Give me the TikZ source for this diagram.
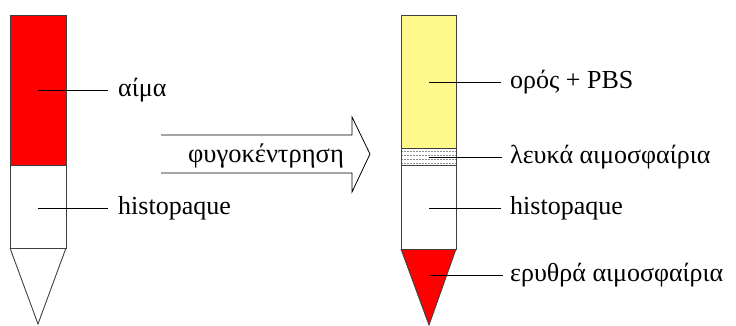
\documentclass[tikz,border=0pt]{standalone}
\usepackage{fontspec}
\setmainfont{Liberation Serif}
\usetikzlibrary{positioning,shapes.arrows}
\tikzset{
  tubewall/.style={draw=black!75, line width=0.9pt},
  leader/.style={draw=black, line width=0.8pt},
  lbl/.style={anchor=west, inner sep=0pt, font=\fontsize{26}{30}\selectfont},
  bigarrow/.style={draw=black, line width=0.8pt, fill=white},
  bandline/.style={draw=black!45, dashed, dash pattern=on 2pt off 1pt, line width=0.5pt}
}
\begin{document}
\begin{tikzpicture}[x=1pt,y=-1pt]
  \useasboundingbox (0,0) rectangle (736,325);

  % left tube, before
  \fill[red] (10,15) rectangle (66,165);
  \draw[tubewall] (10,15) rectangle (66,248);
  \draw[tubewall] (10,165) -- (66,165);
  \draw[tubewall] (10,248) -- (38,324) -- (66,248);
  \coordinate (blood) at (38,90);
  \coordinate (histoA) at (38,208);
  \node[lbl] (bloodlbl) at (118,90) {αίμα};
  \node[lbl] (histoAlbl) at (118,208) {histopaque};
  \draw[leader] (blood) -- ++(70,0);
  \draw[leader] (histoA) -- ++(70,0);

  % centrifuge arrow
  \draw[bigarrow] (161,135) -- (352,135) -- (352,117) -- (370,154)
    -- (352,192) -- (352,173) -- (161,173);
  \node[font=\fontsize{26.5}{30}\selectfont] (spin) at (266,156) {φυγοκέντρηση};

  % right tube, after
  \fill[yellow!45] (401,15) rectangle (456,148);
  \foreach \yy in {151,155,159,163}
    \draw[bandline] (401,\yy) -- (456,\yy);
  \fill[red] (401,249) -- (429,325) -- (456,249) -- cycle;
  \draw[tubewall] (401,15) rectangle (456,249);
  \draw[tubewall] (401,148) -- (456,148);
  \draw[tubewall] (401,165) -- (456,165);
  \draw[tubewall] (401,249) -- (429,325) -- (456,249);
  \coordinate (serum) at (429,82);
  \coordinate (wbc) at (429,157);
  \coordinate (histoB) at (429,208);
  \coordinate (rbc) at (429,275);
  \node[lbl] (serumlbl) at (510,82) {ορός + PBS};
  \node[lbl] (wbclbl) at (510,157) {λευκά αιμοσφαίρια};
  \node[lbl] (histoBlbl) at (510,208) {histopaque};
  \node[lbl] (rbclbl) at (510,275) {ερυθρά αιμοσφαίρια};
  \draw[leader] (serum) -- ++(72,0);
  \draw[leader] (wbc) -- ++(73,0);
  \draw[leader] (histoB) -- ++(72,0);
  \draw[leader] (rbc) -- ++(74,0);
\end{tikzpicture}
\end{document}
